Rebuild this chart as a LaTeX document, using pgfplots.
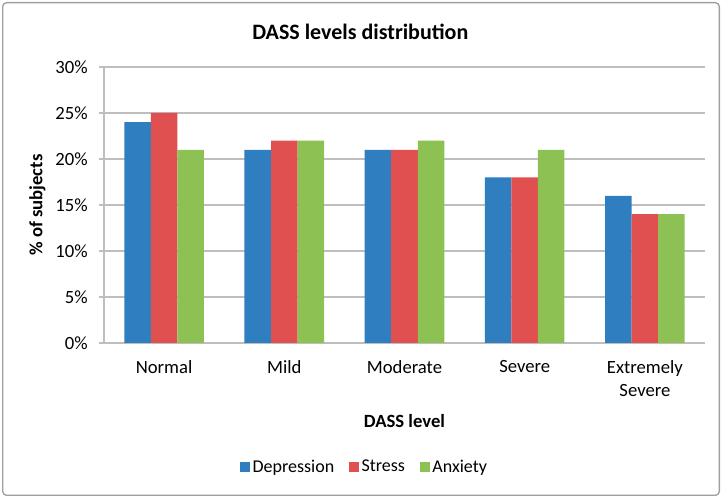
\documentclass[border=0pt]{standalone}
\usepackage{fontspec}
\setmainfont{Carlito}
\usepackage{pgfplots}
\pgfplotsset{compat=1.18}

\definecolor{depblue}{HTML}{2E7EC0}
\definecolor{strred}{HTML}{E05050}
\definecolor{anxgreen}{HTML}{8DC153}
\definecolor{gridgray}{HTML}{BEBEBE}

\begin{document}
\begin{tikzpicture}
\path[use as bounding box] (0,0) rectangle (541.5pt,373.5pt);
\draw[gray!75, line width=1pt, rounded corners=3pt] (2pt,2pt) rectangle (539.5pt,371.5pt);
\begin{axis}[
    at={(78pt,116.25pt)}, anchor=south west,
    scale only axis,
    width=450.75pt, height=207pt,
    ybar=0pt,
    bar width=19.9pt,
    xmin=-0.5, xmax=4.5,
    ymin=0, ymax=30,
    xtick={0,1,2,3,4},
    xticklabels={Normal, Mild, Moderate, Severe, {Extremely\\Severe}},
    xticklabel style={align=center, font=\fontsize{14pt}{17pt}\selectfont, anchor=north, yshift=-6pt},
    ytick={0,5,...,30},
    yticklabel={\pgfmathprintnumber{\tick}\%},
    yticklabel style={font=\fontsize{14pt}{16pt}\selectfont, xshift=-5pt},
    /pgf/number format/assume math mode=true,
    axis x line*=bottom, axis y line*=left,
    axis line style={gridgray, line width=0.8pt},
    x axis line style={-}, y axis line style={-},
    ymajorgrids, grid style={gridgray, line width=0.8pt},
    major x tick style={draw=none},
    major y tick style={gridgray, line width=0.8pt},
    tick align=outside, major tick length=3.75pt,
    title={DASS levels distribution},
    title style={at={(0.4265,1)}, anchor=center, yshift=20pt, font=\fontsize{16.5pt}{18pt}\selectfont\bfseries},
    xlabel={DASS level},
    xlabel style={at={(axis description cs:0.5,0)}, anchor=center, yshift=-58.5pt, font=\fontsize{14pt}{16pt}\selectfont\bfseries},
    ylabel={\% of subjects},
    ylabel style={at={(axis description cs:-0.111,0.5)}, anchor=center, font=\fontsize{14pt}{16pt}\selectfont\bfseries},
    legend style={at={(0.434,-0.449)}, anchor=center, draw=none, legend columns=-1,
        font=\fontsize{13.5pt}{15pt}\selectfont,
        /tikz/every even column/.append style={column sep=9pt}},
    legend image code/.code={\fill[#1] (0pt,-3.75pt) rectangle (7.5pt,3.75pt);},
]
\addplot[fill=depblue, draw=none] coordinates {(0,24) (1,21) (2,21) (3,18) (4,16)};
\addplot[fill=strred, draw=none] coordinates {(0,25) (1,22) (2,21) (3,18) (4,14)};
\addplot[fill=anxgreen, draw=none] coordinates {(0,21) (1,22) (2,22) (3,21) (4,14)};
\legend{Depression, Stress, Anxiety}
\end{axis}
\end{tikzpicture}
\end{document}
